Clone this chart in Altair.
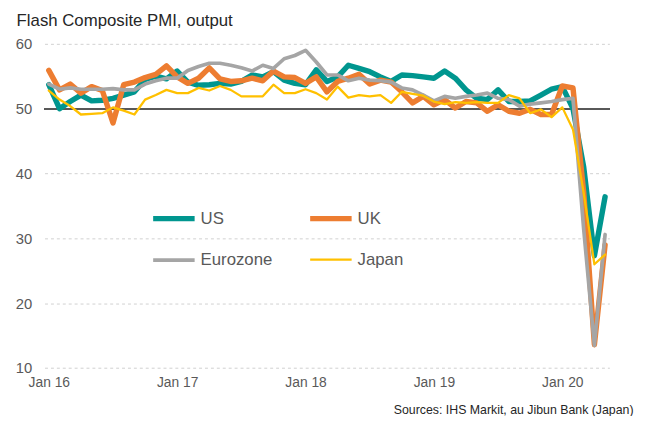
import altair as alt
import pandas as pd

series = ["US", "UK", "Eurozone", "Japan"]
month_index = list(range(53))  # 0 = Jan 2016 ... 52 = May 2020

us = [53.7, 50.0, 51.1, 52.1, 51.2, 51.3, 51.6, 52.1, 52.6, 54.5,
      55.0, 54.6, 55.8, 54.1, 53.6, 53.7, 53.9, 53.8, 54.2, 55.2,
      54.9, 55.7, 54.4, 53.9, 53.7, 56.0, 54.2, 54.9, 56.7, 56.2,
      55.7, 54.9, 54.2, 55.2, 55.1, 54.9, 54.7, 55.8, 54.7, 52.9,
      51.6, 51.4, 52.9, 51.1, 51.1, 51.2, 52.1, 53.0, 53.4, 50.0,
      41.0, 27.3, 36.4]
uk = [55.9, 52.9, 53.8, 52.4, 53.4, 52.8, 47.8, 53.7, 54.1, 54.8,
      55.3, 56.6, 54.9, 53.9, 54.7, 56.3, 54.6, 54.2, 54.3, 54.7,
      54.3, 55.8, 54.9, 54.8, 53.9, 54.9, 52.6, 54.2, 54.7, 55.3,
      53.8, 54.4, 54.1, 52.6, 50.9, 51.9, 50.6, 51.4, 50.1, 51.1,
      50.9, 49.6, 50.6, 49.6, 49.3, 49.9, 49.1, 49.1, 53.5, 53.2,
      37.1, 13.6, 29.0]
eurozone = [53.8, 53.0, 53.2, 53.0, 53.0, 53.0, 53.1, 52.9, 52.9, 53.8,
            54.3, 54.7, 54.7, 55.9, 56.5, 57.0, 57.0, 56.7, 56.3, 55.8,
            56.7, 56.2, 57.7, 58.2, 59.0, 57.2, 55.2, 55.2, 54.3, 54.7,
            54.4, 54.3, 54.1, 53.2, 52.9, 52.1, 51.2, 51.9, 51.6, 51.9,
            52.1, 52.4, 51.6, 51.4, 50.4, 50.7, 50.9, 51.1, 51.4, 51.6,
            31.4, 13.5, 30.6]
japan = [52.8, 51.4, 50.4, 49.1, 49.2, 49.3, 50.2, 49.7, 49.1, 51.4,
         52.1, 52.9, 52.4, 52.4, 53.2, 52.8, 53.5, 52.9, 51.9, 51.9,
         51.9, 53.7, 52.4, 52.4, 53.0, 52.4, 51.4, 53.4, 51.7, 52.1,
         51.9, 52.1, 50.9, 52.6, 52.3, 52.0, 51.1, 50.7, 51.0, 50.9,
         51.0, 50.9, 50.9, 52.1, 51.6, 49.3, 49.9, 48.7, 50.2, 46.8,
         37.0, 26.0, 27.5]

colors = ["#00968F", "#ED7D31", "#A5A5A5", "#FFC000"]
widths = [5.5, 5.5, 3.7, 2.3]
year_ticks = [0, 12, 24, 36, 48]
y_ticks = [10, 20, 30, 40, 50, 60]

rows = []
for name, vals in zip(series, [us, uk, eurozone, japan]):
    for t, v in zip(month_index, vals):
        rows.append({"Series": name, "t": t, "PMI": v})
df = pd.DataFrame(rows)

FONT = "Liberation Sans"

x_enc = alt.X(
    "t:Q",
    scale=alt.Scale(domain=[-0.4, 52.4], nice=False, zero=False),
    axis=alt.Axis(
        values=year_ticks,
        labelExpr="'Jan ' + (16 + datum.value / 12)",
        grid=False, domain=False, ticks=False, tickSize=0,
        labelPadding=8, labelFontSize=14, labelColor="#595959", labelFont=FONT,
        title="Sources: IHS Markit, au Jibun Bank (Japan)",
        titleX=596, titleY=46, titleAlign="right", titleBaseline="alphabetic",
        titleFontSize=12.5, titleFontWeight="normal", titleColor="#262626", titleFont=FONT,
    ),
)
y_enc = alt.Y(
    "PMI:Q",
    scale=alt.Scale(domain=[10, 60], nice=False, zero=False),
    axis=alt.Axis(
        values=y_ticks, grid=True, gridDash=[3, 3], gridColor="#D0D0D0", gridWidth=1,
        domain=False, ticks=False, tickSize=0, labelPadding=13,
        labelFontSize=15, labelColor="#595959", labelFont=FONT, title=None,
    ),
)

legend_opts = dict(
    title=None, orient="none", legendX=107, legendY=153, columns=2,
    direction="horizontal",
    symbolType="stroke", symbolSize=1764,
    labelFontSize=17, labelColor="#595959", labelFont=FONT, labelOffset=3,
    columnPadding=27, rowPadding=8, padding=0,
)

lines = alt.Chart(df).mark_line(strokeJoin="round", strokeCap="round").encode(
    x=x_enc,
    y=y_enc,
    color=alt.Color(
        "Series:N",
        scale=alt.Scale(domain=series, range=colors),
        legend=alt.Legend(**legend_opts),
    ),
    strokeWidth=alt.StrokeWidth(
        "Series:N",
        scale=alt.Scale(domain=series, range=widths, type="ordinal"),
        legend=alt.Legend(**legend_opts),
    ),
    order=alt.Order("t:Q"),
)

rule = alt.Chart(df).mark_rule(color="#595959", strokeWidth=1.5).encode(
    y=alt.datum(50)
)

chart = alt.layer(rule, lines).properties(
    width=572,
    height=328.3,
    padding={"left": 37, "top": 33.7, "right": 29, "bottom": 46},
    autosize=alt.AutoSizeParams(type="none"),
    title=alt.TitleParams(
        "Flash Composite PMI, output", anchor="start", frame="group",
        dx=-28.3, offset=7, fontSize=17, fontWeight="normal",
        color="#262626", font=FONT,
    ),
).configure_view(stroke=None)

chart.save("out.html", embed_options={"renderer": "svg", "actions": False})
